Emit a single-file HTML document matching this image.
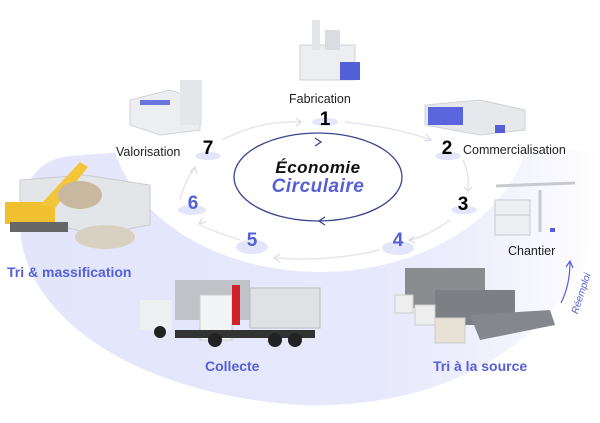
<!DOCTYPE html>
<html><head><meta charset="utf-8"><style>
html,body{margin:0;padding:0;background:#fff;}
body{width:600px;height:423px;overflow:hidden;position:relative;font-family:"Liberation Sans",sans-serif;}
svg{position:absolute;left:0;top:0;}
.t{position:absolute;font-size:12.5px;color:#222;white-space:nowrap;}
.n{position:absolute;font-weight:bold;font-size:19px;text-align:center;width:30px;}
.b{color:#5560d8;}
.bl{position:absolute;font-size:14px;color:#5560d8;font-weight:bold;white-space:nowrap;}
</style></head><body>
<svg width="600" height="423" viewBox="0 0 600 423">
<defs>
<linearGradient id="lg" x1="0" x2="1" y1="0" y2="0">
<stop offset="0" stop-color="#e3e5fb"/><stop offset="0.6" stop-color="#e6e8fb"/><stop offset="0.8" stop-color="#eff0fc"/><stop offset="1" stop-color="#ffffff"/>
</linearGradient>
</defs>
<path d="M70,156 C30,160 15,195 22,245 C40,330 150,395 300,405 C450,410 560,340 600,230 L600,150 L150,150 Z" fill="url(#lg)"/>
<ellipse cx="320" cy="118" rx="210" ry="154" fill="#fff"/>
<g fill="none" stroke="#e4e6ee" stroke-width="1.5">
<path d="M222,140 Q260,120 300,122"/>
<path d="M345,122 Q400,128 430,140"/>
<path d="M463,160 Q470,175 468,190"/>
<path d="M450,220 Q430,235 410,240"/>
<path d="M380,250 Q330,262 275,258"/>
<path d="M240,240 Q215,232 200,225"/>
<path d="M180,200 Q185,180 195,168"/>
</g>
<g fill="none" stroke="#d8dae6" stroke-width="1.2">
<path d="M296,118 l5,4 l-5,4"/><path d="M426,134 l5,6 l-7,1"/><path d="M464,187 l4,4 l4,-4"/>
<path d="M415,236 l-6,4 l6,3"/><path d="M280,254 l-6,4 l6,4"/><path d="M206,222 l-7,2 l3,-6"/><path d="M190,172 l5,-5 l2,7"/>
</g>
<ellipse cx="318" cy="177" rx="84" ry="44" fill="none" stroke="#3a4590" stroke-width="1.3"/>
<path d="M315,138 l6,4 l-6,4" fill="none" stroke="#3a4590" stroke-width="1.3"/>
<path d="M325,217 l-6,4 l6,4" fill="none" stroke="#3a4590" stroke-width="1.3"/>
<g fill="#e3e6fa">
<ellipse cx="325" cy="122" rx="13" ry="4"/><ellipse cx="448" cy="156" rx="13" ry="4"/>
<ellipse cx="464" cy="210" rx="13" ry="4"/><ellipse cx="398" cy="248" rx="16" ry="7"/>
<ellipse cx="252" cy="247" rx="16" ry="7"/><ellipse cx="192" cy="210" rx="14" ry="5"/>
<ellipse cx="208" cy="156" rx="13" ry="4"/>
</g>
<path d="M561,303 Q570,285 570,262" fill="none" stroke="#5560d8" stroke-width="1.2"/>
<path d="M566,267 l4,-6 l3,7" fill="none" stroke="#5560d8" stroke-width="1.2"/>
<g>
<rect x="300" y="45" width="55" height="35" fill="#eceef2" stroke="#cfd2d8"/>
<rect x="312" y="20" width="8" height="30" fill="#e2e4e8"/>
<rect x="325" y="30" width="15" height="20" fill="#dadce2"/>
<rect x="340" y="62" width="20" height="18" fill="#5560d8"/>
</g>
<g>
<polygon points="130,100 170,90 200,100 200,130 160,135 130,125" fill="#eceef2" stroke="#cfd2d8"/>
<rect x="180" y="80" width="22" height="45" fill="#e4e6ea"/>
<rect x="140" y="100" width="30" height="5" fill="#6b75dd"/>
</g>
<g>
<polygon points="425,105 480,100 525,110 525,130 480,135 425,125" fill="#e6e8ec" stroke="#cfd2d8"/>
<rect x="428" y="107" width="35" height="18" fill="#5a66dd"/>
<rect x="495" y="125" width="10" height="8" fill="#5560d8"/>
</g>
<g stroke="#c8cad0" fill="none">
<rect x="495" y="200" width="35" height="35" fill="#eeeff2"/>
<line x1="495" y1="215" x2="530" y2="215"/>
<line x1="540" y1="190" x2="540" y2="232" stroke-width="3"/>
<line x1="496" y1="186" x2="575" y2="183" stroke-width="3"/>
</g>
<rect x="550" y="228" width="5" height="4" fill="#5560d8"/>
<g>
<polygon points="20,180 85,175 150,185 150,225 95,235 20,215" fill="#e4e5e8" stroke="#c9cbd0"/>
<rect x="5" y="202" width="50" height="22" fill="#f0c030"/>
<polygon points="40,205 80,162 88,167 55,208" fill="#f3c53a"/>
<rect x="10" y="222" width="58" height="10" fill="#666"/>
<ellipse cx="105" cy="237" rx="30" ry="12" fill="#d8d0c0"/>
<ellipse cx="80" cy="195" rx="22" ry="14" fill="#c8b8a0"/>
</g>
<g>
<rect x="175" y="280" width="75" height="40" fill="#bfc2c6"/>
<rect x="140" y="300" width="32" height="30" fill="#eef0f2"/>
<rect x="250" y="288" width="70" height="40" fill="#dfe1e4" stroke="#bbb"/>
<rect x="200" y="295" width="32" height="45" fill="#f2f3f5" stroke="#ccc"/>
<rect x="232" y="285" width="8" height="40" fill="#d0202a"/>
<rect x="175" y="330" width="140" height="8" fill="#333"/>
<circle cx="215" cy="340" r="7" fill="#222"/><circle cx="275" cy="340" r="7" fill="#222"/><circle cx="295" cy="340" r="7" fill="#222"/>
<circle cx="160" cy="332" r="6" fill="#222"/>
</g>
<g>
<rect x="405" y="268" width="80" height="40" fill="#8a8c90"/>
<rect x="435" y="290" width="80" height="35" fill="#7d7f84"/>
<polygon points="470,315 550,310 555,325 480,340" fill="#85878c"/>
<rect x="395" y="295" width="18" height="18" fill="#eeeeee" stroke="#ccc"/>
<rect x="415" y="305" width="20" height="20" fill="#eeeeee" stroke="#ccc"/>
<rect x="435" y="318" width="30" height="25" fill="#e8e2d6" stroke="#ccc"/>
</g>
</svg>
<div class="t" style="left:289px;top:92px;">Fabrication</div>
<div class="t" style="left:116px;top:145px;">Valorisation</div>
<div class="t" style="left:463px;top:143px;">Commercialisation</div>
<div class="t" style="left:508px;top:244px;">Chantier</div>
<div class="n" style="left:310px;top:109px;">1</div>
<div class="n" style="left:432px;top:138px;">2</div>
<div class="n" style="left:448px;top:194px;">3</div>
<div class="n b" style="left:383px;top:230px;">4</div>
<div class="n b" style="left:237px;top:230px;">5</div>
<div class="n b" style="left:178px;top:193px;">6</div>
<div class="n" style="left:193px;top:138px;">7</div>
<div style="position:absolute;left:250px;top:158px;width:136px;text-align:center;font-weight:bold;font-style:italic;font-size:17px;color:#111;letter-spacing:0.5px;">Économie</div>
<div style="position:absolute;left:250px;top:176px;width:136px;text-align:center;font-weight:bold;font-style:italic;font-size:19px;color:#5560d8;letter-spacing:0.5px;">Circulaire</div>
<div class="bl" style="left:7px;top:264px;">Tri &amp; massification</div>
<div class="bl" style="left:205px;top:358px;">Collecte</div>
<div class="bl" style="left:433px;top:358px;">Tri à la source</div>
<div style="position:absolute;left:570px;top:312px;font-size:10px;color:#5560d8;font-style:italic;transform:rotate(-72deg);transform-origin:left top;white-space:nowrap;">Réemploi</div>
</body></html>
